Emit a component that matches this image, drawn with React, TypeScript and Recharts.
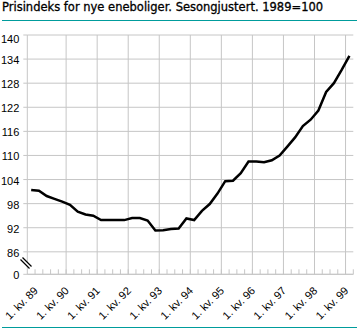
import React from "react";
import { LineChart, Line, XAxis, YAxis, CartesianGrid, ReferenceLine } from "recharts";

// Prisindeks, sesongjustert, 1989=100. One value per quarter, 4. kv. 88 - 1. kv. 99
const priceIndex = [
  101.4, 101.2, 99.9, 99.2, 98.5, 97.7, 96.0, 95.3, 95.0, 93.9,
  93.9, 93.9, 93.9, 94.4, 94.4, 93.8, 91.3, 91.4, 91.7, 91.8,
  94.3, 93.9, 96.2, 97.9, 100.5, 103.6, 103.7, 105.6, 108.5, 108.5,
  108.3, 108.8, 110.0, 112.2, 114.5, 117.3, 118.9, 121.2, 125.8, 128.0,
  131.3, 134.8,
];

const yearLabels = [
  "1. kv. 89", "1. kv. 90", "1. kv. 91", "1. kv. 92", "1. kv. 93", "1. kv. 94",
  "1. kv. 95", "1. kv. 96", "1. kv. 97", "1. kv. 98", "1. kv. 99",
];

const yTicks = [80.4, 86, 92, 98, 104, 110, 116, 122, 128, 134, 140];

const data = priceIndex.map((v, i) => ({ q: i, v }));
// quarter boundaries (tick marks), every 4th one starts a year
const boundaries = priceIndex.map((_, i) => i + 0.5);
const yearLines = boundaries.filter((b) => (b - 0.5) % 4 === 0 && b > 1);

const FONT = "'Liberation Sans', Arial, sans-serif";
const GRID = "#c6c6c6";
const TEAL = "#009c9c";

function XTick(props: any) {
  const { x, y, payload } = props;
  const k = (payload.value - 0.5) / 4;
  if (!Number.isInteger(k) || !yearLabels[k]) return <g />;
  return (
    <g transform={`translate(${x + 3.5},${y + 3})`}>
      <text textAnchor="end" transform="rotate(-45)" fontSize={11} fontFamily={FONT} fill="#000">
        {yearLabels[k]}
      </text>
    </g>
  );
}

function YTick(props: any) {
  const { x, y, payload } = props;
  const v = payload.value;
  const bottom = v < 85;
  const ax = x + 8;
  return (
    <g>
      <text x={x} y={y} dy={v === 140 ? 8 : 5} textAnchor="end" fontSize={11} fontFamily={FONT} fill="#000">
        {bottom ? "0" : v}
      </text>
      {bottom && (
        <g>
          <line x1={ax - 5.8} y1={y - 15.8} x2={ax + 3.2} y2={y - 6.8} stroke="#fff" strokeWidth={2.5} />
          <line x1={ax - 6.8} y1={y - 14.8} x2={ax + 2.2} y2={y - 5.8} stroke="#000" strokeWidth={1.2} />
          <line x1={ax - 4.8} y1={y - 16.8} x2={ax + 4.2} y2={y - 7.8} stroke="#000" strokeWidth={1.2} />
        </g>
      )}
    </g>
  );
}

export default function App() {
  return (
    <div style={{ position: "absolute", left: 0, top: 0, width: 357, height: 328, background: "#fff" }}>
      <div
        style={{
          position: "absolute",
          left: 2,
          top: 0,
          fontFamily: "'DejaVu Sans', Verdana, sans-serif",
          fontSize: 11.5,
          lineHeight: "14px",
          color: "#000",
          whiteSpace: "nowrap",
          WebkitTextStroke: "0.3px #000",
        }}
      >
        Prisindeks for nye eneboliger. Sesongjustert. 1989=100
      </div>
      <div style={{ position: "absolute", left: 2, top: 20, width: 355, height: 1, background: TEAL }} />
      <div style={{ position: "absolute", left: 2, top: 327, width: 355, height: 1, background: TEAL }} />
      <div style={{ position: "absolute", left: 0, top: 0 }}>
        <LineChart width={357} height={328} data={data} margin={{ top: 35, right: 3.7, bottom: 4, left: 0 }}>
          <CartesianGrid vertical={false} stroke={GRID} />
          {yearLines.map((b) => (
            <ReferenceLine key={b} x={b} stroke={GRID} strokeWidth={1} />
          ))}
          <XAxis
            dataKey="q"
            type="number"
            domain={[-0.5, priceIndex.length - 0.5]}
            ticks={boundaries}
            interval={0}
            height={49.7}
            stroke={GRID}
            tickSize={-5}
            tickMargin={19}
            tick={<XTick />}
          />
          <YAxis
            type="number"
            domain={[80.4, 140]}
            ticks={yTicks}
            interval={0}
            width={27.3}
            stroke={GRID}
            tickSize={4}
            tickMargin={4}
            tick={<YTick />}
            allowDataOverflow
          />
          <Line
            type="linear"
            dataKey="v"
            stroke="#000"
            strokeWidth={2.5}
            dot={false}
            isAnimationActive={false}
          />
        </LineChart>
      </div>
    </div>
  );
}
